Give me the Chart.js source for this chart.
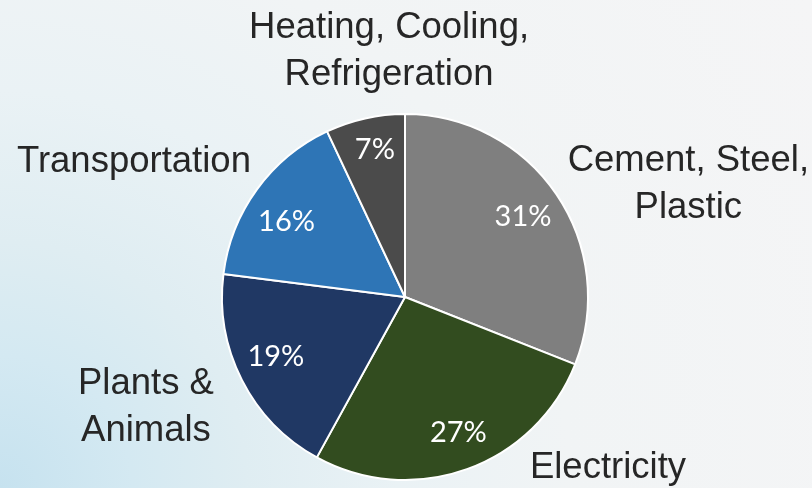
<!DOCTYPE html>
<html>
<head>
<meta charset="utf-8">
<script src="https://cdn.jsdelivr.net/npm/chart.js@4/dist/chart.umd.min.js"></script>
<style>
  html, body {
    margin: 0;
    padding: 0;
  }
  body {
    width: 812px;
    height: 488px;
    overflow: hidden;
    background: radial-gradient(circle farthest-corner at 0% 100%,
      #c6e2ef 0%, #d4e9f2 14%, #dfedf2 26%, #eaf2f5 42%, #f1f4f5 60%, #f5f5f6 100%);
  }
  #wrap {
    position: relative;
    width: 812px;
    height: 488px;
  }
</style>
</head>
<body>
<div id="wrap"><canvas id="emissionsChart"></canvas></div>
<script>
// shares of emissions by sector, clockwise from 12 o'clock
const sectors = [
  ["Cement, Steel,", "Plastic"],
  ["Electricity"],
  ["Plants &", "Animals"],
  ["Transportation"],
  ["Heating, Cooling,", "Refrigeration"]
];
const shares = [31, 27, 19, 16, 7];
const sliceColors = ["#7f7f7f", "#324c1f", "#203864", "#2e75b6", "#4b4b4b"];

// nudges for the labels (outside: first baseline relative to the arc edge point)
const outerNudge = [[132, -23], [141, 9], [-96, 14], [-123, -17], [24, -80]];
const innerNudge = [[0, 0], [5, 1], [-2, -5], [-3, 9], [1, -8]];

const sliceLabels = {
  id: "sliceLabels",
  afterDatasetsDraw(chart) {
    const ctx = chart.ctx;
    const meta = chart.getDatasetMeta(0);
    meta.data.forEach((arc, i) => {
      const p = arc.getProps(["x", "y", "startAngle", "endAngle", "outerRadius"], true);
      const mid = (p.startAngle + p.endAngle) / 2;

      // percentage inside the slice
      const r = p.outerRadius * 0.78;
      ctx.save();
      ctx.fillStyle = "#ffffff";
      ctx.font = "29px Lato";
      ctx.textAlign = "center";
      ctx.textBaseline = "middle";
      ctx.fillText(shares[i] + "%",
        p.x + Math.cos(mid) * r + innerNudge[i][0],
        p.y + Math.sin(mid) * r + innerNudge[i][1]);
      ctx.restore();

      // sector name outside the pie
      const ex = p.x + Math.cos(mid) * p.outerRadius + outerNudge[i][0];
      const ey = p.y + Math.sin(mid) * p.outerRadius + outerNudge[i][1];
      ctx.save();
      ctx.fillStyle = "#262626";
      ctx.font = "36.5px 'Liberation Sans'";
      ctx.textAlign = "center";
      ctx.textBaseline = "alphabetic";
      sectors[i].forEach((line, k) => ctx.fillText(line, ex, ey + k * 47));
      ctx.restore();
    });
  }
};

const ctx = document.getElementById("emissionsChart").getContext("2d");
new Chart(ctx, {
  type: "pie",
  data: {
    labels: sectors.map(s => s.join(" ")),
    datasets: [{
      data: shares,
      backgroundColor: sliceColors,
      borderColor: "#ffffff",
      borderWidth: 2
    }]
  },
  options: {
    responsive: true,
    maintainAspectRatio: false,
    animation: false,
    layout: {
      padding: { left: 221, right: 223, top: 113, bottom: 7 }
    },
    plugins: {
      legend: { display: false },
      tooltip: { enabled: false }
    }
  },
  plugins: [sliceLabels]
});
</script>
</body>
</html>
